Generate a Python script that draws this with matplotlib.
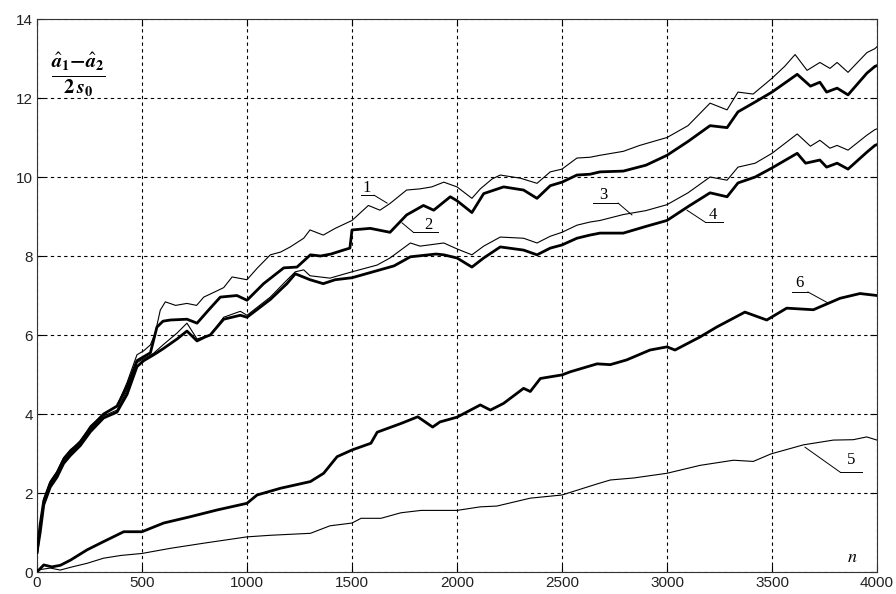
import numpy as np
import matplotlib
matplotlib.use('Agg')
import matplotlib.pyplot as plt

# curve 1 (thin)
n1 = [0, 15, 32, 63, 95, 127, 159, 206, 254, 317, 381, 429, 476, 508, 540, 563, 587, 611, 660, 714, 760, 794, 850, 889, 929,
      1000, 1050, 1111, 1160, 1206, 1270, 1300, 1363, 1420, 1500, 1578, 1633, 1681, 1760, 1824, 1880, 1937, 2000, 2071, 2111,
      2167, 2206, 2302, 2381, 2444, 2500, 2571, 2633, 2681, 2792, 2870, 3000, 3100, 3205, 3286, 3338, 3410, 3500, 3560, 3610,
      3667, 3728, 3776, 3810, 3862, 3952, 3990, 4000]
y1 = [0.5, 1.2, 1.85, 2.3, 2.55, 2.9, 3.1, 3.3, 3.7, 4.0, 4.2, 4.8, 5.5, 5.6, 5.75, 6.05, 6.63, 6.84, 6.75, 6.8, 6.75, 6.96, 7.1, 7.2, 7.47,
      7.4, 7.7, 8.03, 8.1, 8.23, 8.45, 8.66, 8.53, 8.7, 8.9, 9.28, 9.16, 9.33, 9.67, 9.7, 9.75, 9.87, 9.75, 9.46, 9.7,
      9.95, 10.05, 9.97, 9.84, 10.13, 10.2, 10.48, 10.5, 10.55, 10.65, 10.8, 11.0, 11.3, 11.87, 11.7, 12.15, 12.1, 12.5, 12.8, 13.1,
      12.7, 12.9, 12.75, 12.9, 12.65, 13.15, 13.25, 13.3]

# curve 2 (thick)
n2 = [0, 15, 32, 63, 95, 127, 159, 206, 254, 317, 381, 429, 476, 508, 540, 571, 600, 635, 714, 762, 820, 873, 952, 1000, 1079,
      1175, 1238, 1302, 1350, 1400, 1459, 1490, 1500, 1587, 1681, 1760, 1840, 1889, 1968, 2000, 2071, 2127, 2222, 2317, 2381,
      2444, 2500, 2571, 2633, 2681, 2792, 2900, 3000, 3100, 3205, 3286, 3338, 3420, 3500, 3620, 3683, 3728, 3760, 3810, 3862,
      3952, 3990, 4000]
y2 = [0.5, 1.2, 1.8, 2.25, 2.5, 2.85, 3.05, 3.3, 3.65, 4.0, 4.2, 4.7, 5.35, 5.45, 5.55, 6.2, 6.35, 6.38, 6.4, 6.3, 6.65, 6.96, 7.0, 6.88, 7.3,
      7.7, 7.72, 8.03, 8.0, 8.05, 8.15, 8.2, 8.66, 8.7, 8.6, 9.04, 9.28, 9.16, 9.5, 9.4, 9.1, 9.58, 9.75, 9.67, 9.46,
      9.78, 9.87, 10.05, 10.07, 10.13, 10.15, 10.3, 10.55, 10.9, 11.3, 11.25, 11.65, 11.9, 12.15, 12.6, 12.3, 12.4, 12.15, 12.25, 12.08,
      12.63, 12.8, 12.82]

# curve 3 (thin)
n3 = [0, 15, 32, 63, 95, 127, 159, 206, 254, 317, 381, 429, 476, 508, 556, 600, 667, 714, 762, 825, 889, 968, 1000, 1111, 1190,
      1230, 1270, 1300, 1395, 1500, 1619, 1681, 1778, 1824, 1937, 2000, 2071, 2127, 2206, 2317, 2381, 2444, 2500, 2571, 2633,
      2681, 2792, 2900, 3000, 3100, 3205, 3286, 3338, 3420, 3500, 3620, 3683, 3728, 3776, 3810, 3862, 3952, 3990, 4000]
y3 = [0.5, 1.1, 1.75, 2.2, 2.45, 2.8, 3.0, 3.25, 3.6, 3.95, 4.1, 4.6, 5.3, 5.4, 5.54, 5.75, 6.05, 6.3, 5.9, 6.0, 6.45, 6.6, 6.5, 6.96, 7.39,
      7.6, 7.65, 7.5, 7.44, 7.6, 7.77, 7.95, 8.33, 8.25, 8.33, 8.18, 8.03, 8.25, 8.48, 8.45, 8.33, 8.5, 8.6, 8.78, 8.86,
      8.9, 9.05, 9.15, 9.3, 9.6, 10.0, 9.92, 10.25, 10.35, 10.6, 11.09, 10.78, 10.93, 10.73, 10.8, 10.68, 11.06, 11.2, 11.22]

# curve 4 (thick)
n4 = [0, 15, 32, 63, 95, 127, 159, 206, 254, 317, 381, 429, 476, 508, 556, 600, 667, 714, 762, 800, 825, 889, 968, 1000, 1111,
      1190, 1230, 1300, 1363, 1420, 1500, 1600, 1700, 1778, 1900, 1937, 2000, 2071, 2127, 2206, 2317, 2381, 2444, 2500, 2571,
      2633, 2681, 2792, 2900, 3000, 3100, 3205, 3286, 3338, 3420, 3500, 3620, 3660, 3728, 3760, 3810, 3862, 3952, 3990, 4000]
y4 = [0.5, 1.0, 1.7, 2.15, 2.4, 2.75, 2.95, 3.2, 3.55, 3.9, 4.05, 4.5, 5.2, 5.35, 5.5, 5.65, 5.9, 6.1, 5.85, 5.95, 6.0, 6.4, 6.5, 6.45, 6.9,
      7.3, 7.55, 7.4, 7.3, 7.4, 7.45, 7.6, 7.75, 7.98, 8.05, 8.03, 7.95, 7.72, 7.95, 8.23, 8.15, 8.03, 8.2, 8.28, 8.45,
      8.53, 8.58, 8.58, 8.75, 8.9, 9.25, 9.6, 9.5, 9.85, 10.0, 10.23, 10.6, 10.35, 10.43, 10.25, 10.35, 10.2, 10.63, 10.8, 10.82]

# curve 5 (thin)
n5 = [0, 63, 111, 160, 238, 317, 400, 500, 635, 794, 1000, 1111, 1302, 1395, 1500, 1543, 1638, 1733, 1829, 2000, 2111, 2190,
      2349, 2500, 2667, 2730, 2840, 3000, 3157, 3316, 3411, 3495, 3650, 3792, 3887, 3951, 4000]
y5 = [0.05, 0.1, 0.05, 0.12, 0.22, 0.35, 0.42, 0.47, 0.6, 0.73, 0.89, 0.93, 0.98, 1.17, 1.24, 1.36, 1.36, 1.5, 1.56, 1.56, 1.65, 1.67,
      1.87, 1.95, 2.23, 2.33, 2.38, 2.5, 2.7, 2.83, 2.8, 2.99, 3.22, 3.34, 3.35, 3.42, 3.34]

# curve 6 (thick)
n6 = [0, 32, 71, 111, 159, 238, 317, 413, 500, 603, 730, 857, 1000, 1048, 1159, 1302, 1365, 1429, 1500, 1590, 1620, 1733, 1813,
      1884, 1919, 2000, 2111, 2159, 2222, 2317, 2349, 2397, 2500, 2540, 2667, 2730, 2808, 2919, 3000, 3038, 3157, 3236, 3300,
      3371, 3475, 3570, 3697, 3824, 3919, 4000]
y6 = [0.0, 0.18, 0.13, 0.17, 0.3, 0.56, 0.77, 1.02, 1.02, 1.24, 1.4, 1.57, 1.74, 1.95, 2.12, 2.29, 2.5, 2.92, 3.09, 3.26, 3.54, 3.76, 3.93,
      3.67, 3.8, 3.92, 4.23, 4.1, 4.27, 4.65, 4.57, 4.9, 4.99, 5.07, 5.27, 5.25, 5.37, 5.62, 5.7, 5.62, 5.95, 6.2, 6.38,
      6.58, 6.38, 6.68, 6.64, 6.93, 7.05, 7.0]

xticks = [0, 500, 1000, 1500, 2000, 2500, 3000, 3500, 4000]
yticks = [0, 2, 4, 6, 8, 10, 12, 14]

plt.rcParams['mathtext.fontset'] = 'stix'
fig = plt.figure(figsize=(8.96, 5.94), dpi=100)
ax = fig.add_axes([0.0413, 0.037, 0.9375, 0.931])

thin = 0.8
thick = 2.0
ax.plot(n1, y1, color='black', lw=thin, zorder=3)
ax.plot(n2, y2, color='black', lw=thick, zorder=3)
ax.plot(n3, y3, color='black', lw=thin, zorder=3)
ax.plot(n4, y4, color='black', lw=thick, zorder=3)
ax.plot(n5, y5, color='black', lw=thin, zorder=3)
ax.plot(n6, y6, color='black', lw=thick, zorder=3)

ax.set_xlim(0, 4000)
ax.set_ylim(0, 14)
ax.set_xticks(xticks)
ax.set_yticks(yticks)
ax.grid(True, color='black', linestyle=(0, (3, 3)), linewidth=0.8, zorder=0)
ax.tick_params(direction='in', length=5, width=0.8, top=True, right=True,
               labelsize=11, labelcolor='#222222', pad=3)
for lab in ax.get_xticklabels() + ax.get_yticklabels():
    lab.set_family('Liberation Sans')
for s in ax.spines.values():
    s.set_linewidth(0.8)
    s.set_color('#333333')

# curve labels with leader lines: (text pos, underline, leader)
etiquetas = [
    ('1', (1571, 9.72), (1543, 1605, 9.54), (1605, 9.54, 1667, 9.34)),
    ('2', (1862, 8.78), (1790, 1910, 8.61), (1790, 8.61, 1738, 8.84)),
    ('3', (2695, 9.54), (2648, 2767, 9.34), (2767, 9.34, 2833, 9.04)),
    ('4', (3219, 9.04), (3181, 3267, 8.86), (3181, 8.86, 3095, 9.16)),
    ('6', (3629, 7.32), (3595, 3671, 7.09), (3671, 7.09, 3767, 6.81)),
    ('5', (3876, 2.84), (3824, 3929, 2.53), (3824, 2.53, 3657, 3.16)),
]
for txt, pos, sub, lider in etiquetas:
    ax.text(pos[0], pos[1], txt, ha='center', va='center', fontsize=12,
            family='Liberation Serif', zorder=4)
    ax.plot([sub[0], sub[1]], [sub[2], sub[2]], color='black', lw=0.7, zorder=4)
    ax.plot([lider[0], lider[2]], [lider[1], lider[3]], color='black', lw=0.7, zorder=4)

ax.text(3881, 0.38, r'$n$', ha='center', va='center', fontsize=13, zorder=4)
ax.text(0.0495, 0.9, r'$\frac{\hat{\mathbfit{a}}_\mathbf{1}\mathbf{-}\hat{\mathbfit{a}}_\mathbf{2}}{\mathbf{2}\,\mathbfit{s}_\mathbf{0}}$',
        transform=ax.transAxes, ha='center', va='center', fontsize=21, zorder=4)

fig.savefig('out.png', dpi=100)
